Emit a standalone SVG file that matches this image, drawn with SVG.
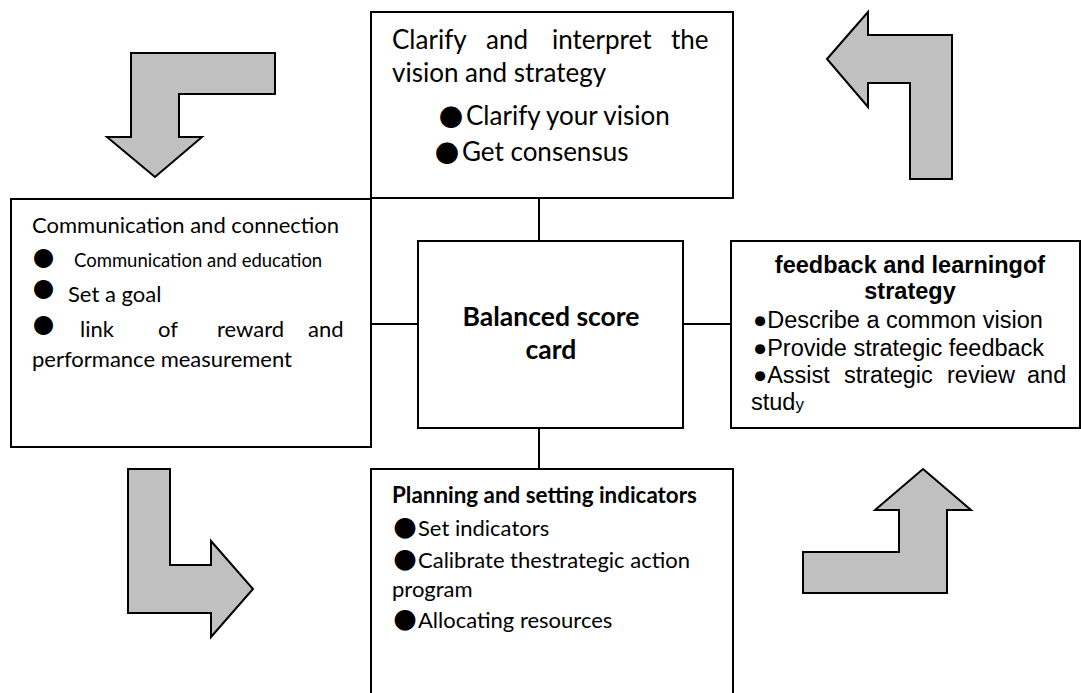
<svg xmlns="http://www.w3.org/2000/svg" width="1081" height="693" viewBox="0 0 1081 693">
<style>
.box{fill:#fff;stroke:#000;stroke-width:2}
.arr{fill:#c0c0c0;stroke:#000;stroke-width:2;stroke-linejoin:miter}
.con{stroke:#000;stroke-width:2;fill:none}
.cal{font-family:Lato,"Open Sans",sans-serif;fill:#000}
.calb{font-family:Lato,"Open Sans",sans-serif;font-weight:bold;fill:#000}
.ar{font-family:"Liberation Sans",Arial,sans-serif;fill:#000;font-size:23.5px}
.arb{font-family:"Liberation Sans",Arial,sans-serif;font-weight:bold;fill:#000;font-size:23.5px}
.blt{font-family:"Noto Sans CJK SC",sans-serif;fill:#000;text-anchor:middle}
</style>
<rect width="1081" height="693" fill="#fff"/>
<g id="arrows">
<polygon class="arr" points="131,53 275,53 275,94 179,94 179,137 202,137 155,177 107,137 131,137"/>
<polygon class="arr" points="827,59 868,12 868,35 952,35 952,179 910,179 910,83 868,83 868,107"/>
<polygon class="arr" points="128,469 170,469 170,565 211,565 211,541 253,589 211,637 211,613 128,613"/>
<polygon class="arr" points="923,469 971,510 947,510 947,593 803,593 803,552 899,552 899,510 875,510"/>
</g>
<g id="connectors">
<line class="con" x1="539" y1="198" x2="539" y2="241"/>
<line class="con" x1="371" y1="324" x2="418" y2="324"/>
<line class="con" x1="683" y1="324" x2="731" y2="324"/>
<line class="con" x1="539" y1="428" x2="539" y2="469"/>
</g>
<g id="node-clarify">
<rect class="box" x="371" y="12" width="362" height="186"/>
<text class="cal" font-size="26" y="49"><tspan x="392">Clarify</tspan> <tspan x="486">and</tspan> <tspan x="552">interpret</tspan> <tspan x="671">the</tspan></text>
<text class="cal" font-size="26" x="392" y="82">vision and strategy</text>
<text class="blt" font-size="24" x="451" y="126">●</text>
<text class="cal" font-size="26" x="466" y="125">Clarify your vision</text>
<text class="blt" font-size="24" x="447" y="162">●</text>
<text class="cal" font-size="26" x="462" y="161">Get consensus</text>
</g>
<g id="node-communication">
<rect class="box" x="11" y="199" width="360" height="248"/>
<text class="cal" font-size="22" x="32" y="233">Communication and connection</text>
<text class="blt" font-size="21" x="43.5" y="266">●</text>
<text class="cal" font-size="18.5" x="74" y="267">Communication and education</text>
<text class="blt" font-size="21" x="43.5" y="297">●</text>
<text class="cal" font-size="22" x="68" y="302">Set a goal</text>
<text class="blt" font-size="21" x="43.5" y="333">●</text>
<text class="cal" font-size="22" y="337"><tspan x="80">link</tspan> <tspan x="158">of</tspan> <tspan x="217">reward</tspan> <tspan x="308">and</tspan></text>
<text class="cal" font-size="22" x="32" y="367">performance measurement</text>
</g>
<g id="node-bsc">
<rect class="box" x="418" y="241" width="265" height="187"/>
<text class="calb" font-size="26.5" x="551" y="326" text-anchor="middle">Balanced score</text>
<text class="calb" font-size="26.5" x="551" y="359" text-anchor="middle">card</text>
</g>
<g id="node-feedback">
<rect class="box" x="731" y="241" width="349" height="187"/>
<text class="arb" x="910" y="273" text-anchor="middle">feedback and learningof</text>
<text class="arb" x="910" y="299" text-anchor="middle">strategy</text>
<text class="ar" x="753" y="328">●Describe a common vision</text>
<text class="ar" x="753" y="356">●Provide strategic feedback</text>
<text class="ar" y="383"><tspan x="753">●Assist</tspan> <tspan x="844">strategic</tspan> <tspan x="947">review</tspan> <tspan x="1027">and</tspan></text>
<text class="ar" x="751" y="410">stud<tspan font-size="17">y</tspan></text>
</g>
<g id="node-planning">
<rect class="box" x="371" y="469" width="362" height="240"/>
<text class="calb" font-size="22.4" x="392" y="503">Planning and setting indicators</text>
<text class="blt" font-size="23" x="405" y="537">●</text>
<text class="cal" font-size="22" x="418" y="536">Set indicators</text>
<text class="blt" font-size="23" x="405" y="569">●</text>
<text class="cal" font-size="22" x="418" y="568">Calibrate thestrategic action</text>
<text class="cal" font-size="22" x="392" y="597">program</text>
<text class="blt" font-size="23" x="405" y="629">●</text>
<text class="cal" font-size="22" x="418" y="628">Allocating resources</text>
</g>
</svg>
